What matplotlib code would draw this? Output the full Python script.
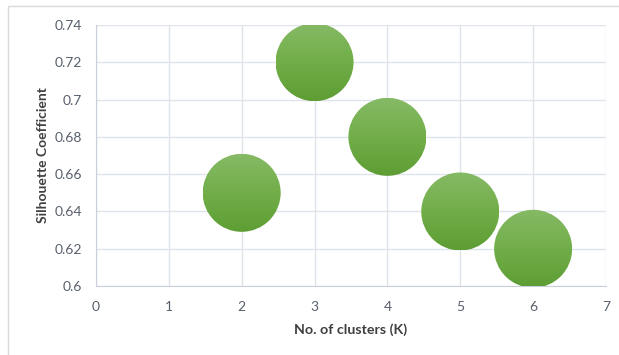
import numpy as np
import matplotlib.pyplot as plt
from matplotlib.patches import Circle, Rectangle
from matplotlib.transforms import Affine2D, ScaledTranslation
from matplotlib.colors import LinearSegmentedColormap

# data
clusters = [2, 3, 4, 5, 6]
silhouette = [0.65, 0.72, 0.68, 0.64, 0.62]
x_ticks = [0, 1, 2, 3, 4, 5, 6, 7]
y_ticks = [0.6, 0.62, 0.64, 0.66, 0.68, 0.7, 0.72, 0.74]

plt.rcParams['font.family'] = ['Lato', 'DejaVu Sans']

fig = plt.figure(figsize=(6.19, 3.55), dpi=100)
ax = fig.add_axes([0.155, 0.194, 0.824, 0.736])

# light frame around the chart area
fig.patches.append(Rectangle((8 / 619, -0.02), 1.1, 1 - 6 / 355 + 0.02,
                             transform=fig.transFigure, fill=False,
                             ec='#d9d9d9', lw=1))

ax.set_xlim(0, 7)
ax.set_ylim(0.6, 0.74)
ax.set_xticks(x_ticks)
ax.set_yticks(y_ticks)
ax.set_yticklabels([f"{v:g}" for v in y_ticks])
ax.grid(True, color='#dfe3ea', lw=1)
ax.set_axisbelow(True)
for s in ['top', 'right']:
    ax.spines[s].set_visible(False)
for s in ['left', 'bottom']:
    ax.spines[s].set_color('#c9cfdb')
ax.tick_params(length=0, labelsize=10, colors='#58606c')
ax.tick_params(axis='x', pad=11)
ax.tick_params(axis='y', pad=10)

ax.set_xlabel('No. of clusters (K)', fontsize=10.3, fontweight='bold',
              color='#404040', labelpad=7)
ax.set_ylabel('Silhouette Coefficient', fontsize=10, fontweight='bold',
              color='#404040', labelpad=4)

# bubbles with vertical gradient
cmap = LinearSegmentedColormap.from_list('g', ['#5e9d34', '#71ae48', '#86ba66'])
grad = np.linspace(0, 1, 256).reshape(-1, 1)
r_px = 39
for x, y in zip(clusters, silhouette):
    tr = Affine2D().scale(r_px) + ScaledTranslation(x, y, ax.transData)
    circ = Circle((0, 0), 1, transform=tr, fc='none', ec='none')
    ax.add_patch(circ)
    im = ax.imshow(grad, cmap=cmap, origin='lower', extent=(-1, 1, -1, 1),
                   transform=tr, interpolation='bilinear', zorder=3)
    im.set_clip_path(circ)
    circ.set_clip_on(False)

ax.set_xlim(0, 7)
ax.set_ylim(0.6, 0.74)
ax.set_aspect('auto')

fig.savefig('out.png', dpi=100)
